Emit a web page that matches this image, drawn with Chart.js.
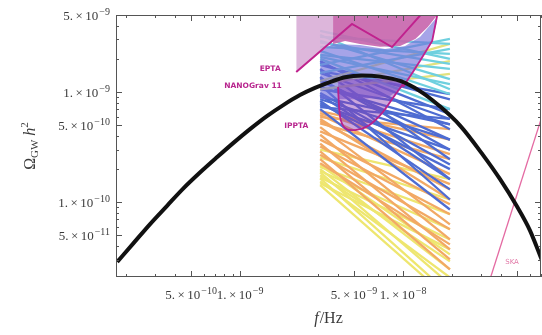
<!DOCTYPE html>
<html>
<head>
<meta charset="utf-8">
<script src="https://cdn.jsdelivr.net/npm/chart.js@4.4.1/dist/chart.umd.min.js"></script>
<style>
  html, body { margin: 0; padding: 0; background: #fff; }
  #wrap { width: 542px; height: 335px; }
</style>
</head>
<body>
<div id="wrap"><canvas id="gw" width="542" height="335"></canvas></div>
<script>
// axis ranges and tick labels
var xMin = 1.73e-10, xMax = 7.03e-8;
var yMin = 2.1e-11, yMax = 5.0e-9;
var xTicks = [5e-10, 1e-9, 5e-9, 1e-8];
var xTickLabels = ['5.^−10', '1.^−9', '5.^−9', '1.^−8'];
var yTicks = [5e-11, 1e-10, 5e-10, 1e-9, 5e-9];
var yTickLabels = ['5.^−11', '1.^−10', '5.^−10', '1.^−9', '5.^−9'];

// black model spectrum
var modelFreq  = [1.76e-10, 2.21e-10, 2.81e-10, 3.56e-10, 4.47e-10, 5.69e-10, 7.23e-10, 9.06e-10, 1.15e-9, 1.46e-9, 1.84e-9, 2.33e-9, 2.88e-9,
                  3.56e-9, 4.41e-9, 5.60e-9, 7.22e-9, 9.6e-9, 1.27e-8, 1.69e-8, 2.24e-8, 3.10e-8, 3.94e-8, 5.0e-8, 6.01e-8, 7.13e-8];
var modelOmega = [2.88e-11, 4.24e-11, 6.38e-11, 9.29e-11, 1.33e-10, 1.87e-10, 2.57e-10, 3.44e-10, 4.61e-10, 6.05e-10, 7.62e-10, 9.39e-10, 1.09e-9,
                  1.23e-9, 1.36e-9, 1.41e-9, 1.38e-9, 1.26e-9, 1.02e-9, 7.38e-10, 4.96e-10, 2.68e-10, 1.62e-10, 9.19e-11, 5.56e-11, 2.97e-11];

// PTA curves
var eptaFreq  = [2.21e-9, 4.86e-9, 8.56e-9, 1.19e-8, 1.42e-8];
var eptaOmega = [1.52e-9, 4.15e-9, 2.56e-9, 4.42e-9, 5.93e-9];
var eptaBoxFreq  = [2.21e-9, 3.72e-9];
var eptaBoxOmega = [1.52e-9, 2.9e-9];
var pinkFreq  = [3.72e-9, 4.41e-9, 5.44e-9, 7.22e-9, 9.6e-9, 1.19e-8, 1.42e-8, 1.64e-8];
var pinkOmega = [2.73e-9, 2.91e-9, 2.73e-9, 2.57e-9, 2.62e-9, 3.03e-9, 3.9e-9, 5.1e-9];
var nanoTopFreq  = [3.10e-9, 3.72e-9, 5.44e-9, 7.76e-9, 1.03e-8, 1.27e-8, 1.62e-8];
var nanoTopOmega = [2.36e-9, 2.73e-9, 2.67e-9, 2.46e-9, 2.62e-9, 3.16e-9, 4.8e-9];
var nanoBotFreq  = [3.10e-9, 5.44e-9, 8.32e-9, 1.0e-8, 1.15e-8, 1.27e-8, 1.51e-8, 1.62e-8];
var nanoBotOmega = [8.6e-10, 8.6e-10, 9.2e-10, 1.11e-9, 1.52e-9, 1.91e-9, 2.91e-9, 4.42e-9];
var nanoArmFreq  = [1.0e-8, 1.15e-8, 1.27e-8, 1.51e-8, 1.64e-8];
var nanoArmOmega = [1.11e-9, 1.52e-9, 1.91e-9, 2.91e-9, 5.44e-9];
var ipptaTopFreq  = [3.78e-9, 1.04e-8];
var ipptaTopOmega = [1.31e-9, 1.31e-9];
var ipptaFreq  = [3.99e-9, 4.11e-9, 4.41e-9, 5.08e-9, 6.09e-9, 7.43e-9, 8.93e-9, 1.0e-8];
var ipptaOmega = [1.11e-9, 5.93e-10, 4.71e-10, 4.52e-10, 4.91e-10, 6.44e-10, 9.4e-10, 1.18e-9];
var skaFreq  = [3.32e-8, 7.43e-8];
var skaOmega = [1.75e-11, 7.3e-10];

// fan of power-law spectra: value at fanFreq[0] and at fanFreq[1]
var fanFreq = [3.10e-9, 1.94e-8];
var fanGroup = ['c','c','c','c','c','c','c','c','c','c','c','c',
                'l','l','l',
                'b','b','b','b','b','b','b','b','b','b','b','b','b','b','b','b','b','b','b','b','b',
                'o','o','o','o','o','o','o','o','o','o','o','o','o','o','o','o','o',
                'y','y','y','y','y','y','y','y','y','y','y','y','y'];
var fanStart = [3.58e-9, 3.29e-9, 3.16e-9, 2.91e-9, 2.82e-9, 2.57e-9, 2.36e-9, 2.17e-9, 2.08e-9, 2.0e-9, 1.76e-9, 1.49e-9,
                1.26e-9, 1.16e-9, 1.06e-9,
                1.91e-9, 1.84e-9, 1.76e-9, 1.62e-9, 1.55e-9, 1.49e-9, 1.37e-9, 1.31e-9, 1.26e-9, 1.16e-9, 1.11e-9, 1.06e-9,
                9.8e-10, 9.4e-10, 9.0e-10, 8.6e-10, 8.3e-10, 7.9e-10, 7.6e-10, 7.3e-10, 7.0e-10,
                6.7e-10, 6.44e-10, 6.2e-10, 5.93e-10, 5.7e-10, 5.45e-10, 5.2e-10, 4.8e-10, 4.4e-10, 4.1e-10, 3.7e-10,
                3.4e-10, 3.2e-10, 2.9e-10, 2.7e-10, 2.46e-10, 2.26e-10,
                3.0e-10, 2.56e-10, 2.17e-10, 2.09e-10, 2.0e-10, 1.92e-10, 1.87e-10, 1.76e-10, 1.68e-10, 1.65e-10, 1.55e-10, 1.49e-10, 1.43e-10];
var fanEnd   = [2.0e-9, 1.06e-9, 2.73e-9, 1.31e-9, 1.80e-9, 2.22e-9, 9.6e-10, 1.62e-9, 1.18e-9, 7.0e-10, 3.03e-9, 2.46e-9,
                2.73e-9, 1.91e-9, 1.46e-9,
                4.6e-10, 6.3e-10, 8.6e-10, 2.46e-10, 9.6e-10, 5.7e-10, 1.62e-10, 3.0e-10, 3.7e-10, 1.06e-10, 5.1e-10, 7.0e-10,
                2.2e-10, 1.62e-10, 5.1e-10, 3.7e-10, 1.31e-10, 2.0e-10, 3.0e-10, 5.7e-10, 8.6e-11,
                3.7e-10, 2.73e-10, 1.8e-10, 4.6e-10, 1.06e-10, 1.31e-10, 2.46e-10, 6.3e-11, 1.46e-10, 4.6e-11, 9.6e-11,
                3.74e-11, 7.8e-11, 3.03e-11, 5.7e-11, 2.46e-11, 4.15e-11,
                1.62e-10, 1.06e-10, 3.37e-11, 7.8e-11, 2.46e-11, 5.7e-11, 1.8e-11, 2.91e-11, 4.6e-11, 1.46e-11, 2.08e-11, 3.74e-11, 1.31e-11];

// curve labels
var noteText  = ['EPTA', 'NANOGrav 11', 'IPPTA', 'SKA'];
var noteFreq  = [1.53e-9, 1.20e-9, 2.21e-9, 4.67e-8];
var noteOmega = [1.62e-9, 1.13e-9, 4.91e-10, 2.85e-11];

var fanColors = { c: '#6fd0df', l: '#e2e27e', b: '#4e6cd2', o: '#f2a965', y: '#eee66f' };
var serif = "'Liberation Serif','DejaVu Serif',serif";

function pts(fs, ws) {
    return fs.map(function (f, i) { return { x: f, y: ws[i] }; });
}

var datasets = [];
function add(ds) {
    ds.showLine = true;
    ds.pointRadius = 0;
    if (ds.borderWidth === undefined) ds.borderWidth = 0;
    datasets.push(ds);
    return datasets.length - 1;
}

for (var i = 0; i < fanStart.length; i++) {
    add({ data: [{ x: fanFreq[0], y: fanStart[i] }, { x: fanFreq[1], y: fanEnd[i] }],
          borderColor: fanColors[fanGroup[i]], borderWidth: 2.3, order: 20 });
}
var nanoTopIdx = add({ data: pts(nanoTopFreq, nanoTopOmega), borderColor: 'rgba(0,0,0,0)', order: 15 });
add({ data: pts(nanoBotFreq, nanoBotOmega), borderColor: 'rgba(0,0,0,0)',
      backgroundColor: 'rgba(112,108,218,0.62)', fill: { target: nanoTopIdx }, order: 14 });
add({ data: pts(eptaBoxFreq, eptaBoxOmega), borderColor: 'rgba(0,0,0,0)',
      backgroundColor: 'rgba(216,172,214,0.88)', fill: 'end', order: 12 });
add({ data: pts(pinkFreq, pinkOmega), borderColor: 'rgba(0,0,0,0)',
      backgroundColor: 'rgba(198,100,172,0.9)', fill: 'end', order: 11 });
var ipptaTopIdx = add({ data: pts(ipptaTopFreq, ipptaTopOmega), borderColor: 'rgba(0,0,0,0)', order: 10 });
add({ data: pts(ipptaFreq, ipptaOmega), borderColor: '#b8208c', borderWidth: 1.8, tension: 0.3,
      backgroundColor: 'rgba(140,60,180,0.45)', fill: { target: ipptaTopIdx }, order: 9 });
add({ data: pts(eptaFreq, eptaOmega), borderColor: '#c0228e', borderWidth: 2, order: 8 });
add({ data: pts(nanoArmFreq, nanoArmOmega), borderColor: '#c0228e', borderWidth: 1.8, order: 8 });
add({ data: pts(skaFreq, skaOmega), borderColor: '#e46aa2', borderWidth: 1.3, order: 2 });
add({ data: pts(modelFreq, modelOmega), borderColor: '#111', borderWidth: 4,
      cubicInterpolationMode: 'monotone', order: 0 });

function minorValues(min, max) {
    var out = [];
    for (var e = Math.floor(Math.log10(min)); e <= Math.ceil(Math.log10(max)); e++) {
        for (var k = 1; k <= 9; k++) {
            var v = k * Math.pow(10, e);
            if (v >= min * 0.999 && v <= max * 1.001) out.push({ v: v, major: k === 1 || k === 5 });
        }
    }
    return out;
}

function drawSci(ctx, label, x, y, align) {
    var parts = label.split('^');
    var base = 13, sup = 10, gap = 2.5;
    ctx.font = base + 'px ' + serif;
    var w1 = ctx.measureText(parts[0]).width, w2 = ctx.measureText('×').width, w3 = ctx.measureText('10').width;
    ctx.font = sup + 'px ' + serif;
    var w4 = ctx.measureText(parts[1]).width;
    var total = w1 + gap + w2 + gap + w3 + 1 + w4;
    var x0 = align === 'right' ? x - total : x - total / 2;
    ctx.textAlign = 'left';
    ctx.textBaseline = 'alphabetic';
    ctx.font = base + 'px ' + serif;
    ctx.fillText(parts[0], x0, y); x0 += w1 + gap;
    ctx.fillText('×', x0, y); x0 += w2 + gap;
    ctx.fillText('10', x0, y); x0 += w3 + 1;
    ctx.font = sup + 'px ' + serif;
    ctx.fillText(parts[1], x0, y - 5);
}

var framePlugin = {
    id: 'frame',
    afterDraw: function (chart) {
        var ctx = chart.ctx, a = chart.chartArea;
        var xs = chart.scales.x, ys = chart.scales.y;
        ctx.save();
        ctx.strokeStyle = '#555';
        ctx.lineWidth = 1;
        ctx.strokeRect(a.left + 0.5, a.top + 0.5, a.right - a.left - 1, a.bottom - a.top - 1);

        ctx.beginPath();
        minorValues(xMin, xMax).forEach(function (t) {
            var px = Math.round(xs.getPixelForValue(t.v)) + 0.5, len = t.major ? 6 : 3;
            ctx.moveTo(px, a.bottom); ctx.lineTo(px, a.bottom - len);
            ctx.moveTo(px, a.top); ctx.lineTo(px, a.top + len);
        });
        minorValues(yMin, yMax).forEach(function (t) {
            var py = Math.round(ys.getPixelForValue(t.v)) + 0.5, len = t.major ? 6 : 3;
            ctx.moveTo(a.left, py); ctx.lineTo(a.left + len, py);
            ctx.moveTo(a.right, py); ctx.lineTo(a.right - len, py);
        });
        ctx.stroke();

        ctx.fillStyle = '#3a3a3a';
        xTicks.forEach(function (v, i) {
            drawSci(ctx, xTickLabels[i], xs.getPixelForValue(v), a.bottom + 22, 'center');
        });
        yTicks.forEach(function (v, i) {
            drawSci(ctx, yTickLabels[i], a.left - 6, ys.getPixelForValue(v) + 5, 'right');
        });

        // x title
        ctx.font = 'italic 16px ' + serif;
        var wf = ctx.measureText('f').width;
        ctx.font = '16px ' + serif;
        var wr = ctx.measureText('/Hz').width;
        var cx = (a.left + a.right) / 2 - (wf + wr + 1) / 2;
        ctx.font = 'italic 16px ' + serif;
        ctx.fillText('f', cx, 323);
        ctx.font = '16px ' + serif;
        ctx.fillText('/Hz', cx + wf + 1, 323);

        // y title
        ctx.translate(35, 146);
        ctx.rotate(-Math.PI / 2);
        var segs = [['Ω', '16px ', 0], ['GW', '11px ', 3], [' ', '16px ', 0], ['h', 'italic 16px ', 0], ['2', '11px ', -7]];
        var tot = 0;
        segs.forEach(function (s) { ctx.font = s[1] + serif; s.push(ctx.measureText(s[0]).width); tot += s[3]; });
        var sx = -tot / 2;
        segs.forEach(function (s) {
            ctx.font = s[1] + serif;
            ctx.fillText(s[0], sx, s[2]);
            sx += s[3];
        });
        ctx.restore();

        // curve labels
        ctx.save();
        ctx.textAlign = 'center';
        ctx.textBaseline = 'middle';
        noteText.forEach(function (t, i) {
            ctx.font = (t === 'SKA' ? '7px ' : 'bold 7.5px ') + "'DejaVu Sans',sans-serif";
            ctx.fillStyle = t === 'SKA' ? '#e27aa8' : '#b8268e';
            ctx.fillText(t, xs.getPixelForValue(noteFreq[i]), ys.getPixelForValue(noteOmega[i]));
        });
        ctx.restore();
    }
};

new Chart(document.getElementById('gw'), {
    type: 'scatter',
    data: { datasets: datasets },
    options: {
        responsive: false,
        animation: false,
        devicePixelRatio: 1,
        layout: { padding: { top: 15, right: 1, left: 0, bottom: 0 } },
        plugins: { legend: { display: false }, tooltip: { enabled: false } },
        scales: {
            x: {
                type: 'logarithmic', min: xMin, max: xMax,
                grid: { display: false, drawTicks: false },
                border: { display: false },
                ticks: { display: false },
                afterFit: function (s) { s.height = 58; }
            },
            y: {
                type: 'logarithmic', min: yMin, max: yMax,
                grid: { display: false, drawTicks: false },
                border: { display: false },
                ticks: { display: false },
                afterFit: function (s) { s.width = 116; }
            }
        }
    },
    plugins: [framePlugin]
});
</script>
</body>
</html>
